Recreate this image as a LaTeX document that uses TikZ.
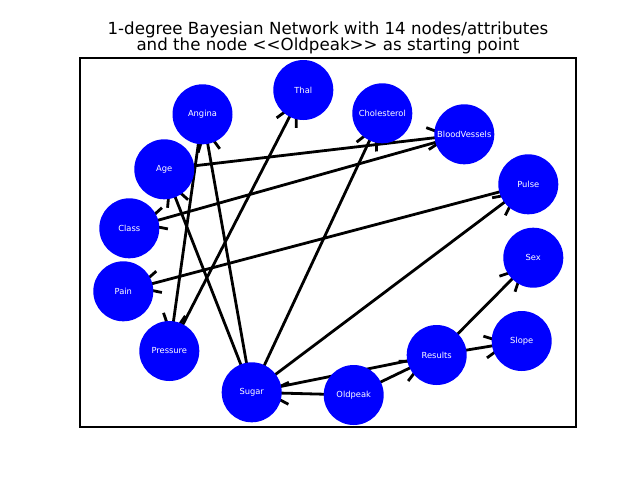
\documentclass[tikz,border=0pt]{standalone}
\usepackage{fontspec}
\setmainfont{DejaVu Sans}
\usetikzlibrary{calc}
\pgfdeclarelayer{bg}
\pgfsetlayers{bg,main}
\newcommand\arrowedge[2]{%
  \draw[edgeline] (#1.center) -- (#2.center);
  \draw[edgeline] ($(#2.center)!28.95pt!16.56:(#1.center)$) -- ($(#2.center)!11.25pt!(#1.center)$) -- ($(#2.center)!28.95pt!-16.56:(#1.center)$);
}
\newcommand\plainedge[2]{%
  \draw[edgeline] (#1.center) -- (#2.center);
}
\begin{document}
\begin{tikzpicture}[x=0.75pt,y=-0.75pt,
  netnode/.style={circle,fill=blue,draw=none,minimum size=45pt,inner sep=0pt,text=white,font=\fontsize{6.25}{7}\selectfont},
  edgeline/.style={line width=2.1pt,black,line cap=butt,line join=miter},
  titletext/.style={font=\fontsize{12.5}{12.5}\selectfont,anchor=base,inner sep=0pt},
  frame/.style={draw=black,line width=0.8pt}
  ]
\useasboundingbox (0,0) rectangle (640,480);
\draw[frame] (80,58) rectangle (576,427);
\node[titletext] (title1) at (328,34) {1-degree Bayesian Network with 14 nodes/attributes};
\node[titletext] (title2) at (328,50.7) {and the node <\kern0pt<Oldpeak>\kern0pt> as starting point};

\node[netnode] (Angina) at (202.5,114.3) {Angina};
\node[netnode] (Thal) at (303.3,90) {Thal};
\node[netnode] (Cholesterol) at (382.3,113.3) {Cholesterol};
\node[netnode] (BloodVessels) at (464.3,134.3) {BloodVessels};
\node[netnode] (Age) at (164.3,169.3) {Age};
\node[netnode] (Pulse) at (528.3,184.3) {Pulse};
\node[netnode] (Class) at (129.3,228.3) {Class};
\node[netnode] (Sex) at (533.3,257.7) {Sex};
\node[netnode] (Pain) at (123.3,291.3) {Pain};
\node[netnode] (Slope) at (521.7,341) {Slope};
\node[netnode] (Pressure) at (169.3,351) {Pressure};
\node[netnode] (Results) at (436.7,355) {Results};
\node[netnode] (Sugar) at (251.7,392.3) {Sugar};
\node[netnode] (Oldpeak) at (353.7,395) {Oldpeak};

\begin{pgfonlayer}{bg}
\arrowedge{Age}{BloodVessels}
\arrowedge{BloodVessels}{Class}
\arrowedge{Pulse}{Pain}
\arrowedge{Sugar}{Pulse}
\arrowedge{Sugar}{Cholesterol}
\arrowedge{Pressure}{Thal}
\arrowedge{Angina}{Pressure}
\arrowedge{Sugar}{Angina}
\arrowedge{Sugar}{Age}
\arrowedge{Oldpeak}{Sugar}
\plainedge{Sugar}{Results}
\arrowedge{Oldpeak}{Results}
\arrowedge{Results}{Sex}
\arrowedge{Results}{Slope}
\end{pgfonlayer}
\end{tikzpicture}
\end{document}
